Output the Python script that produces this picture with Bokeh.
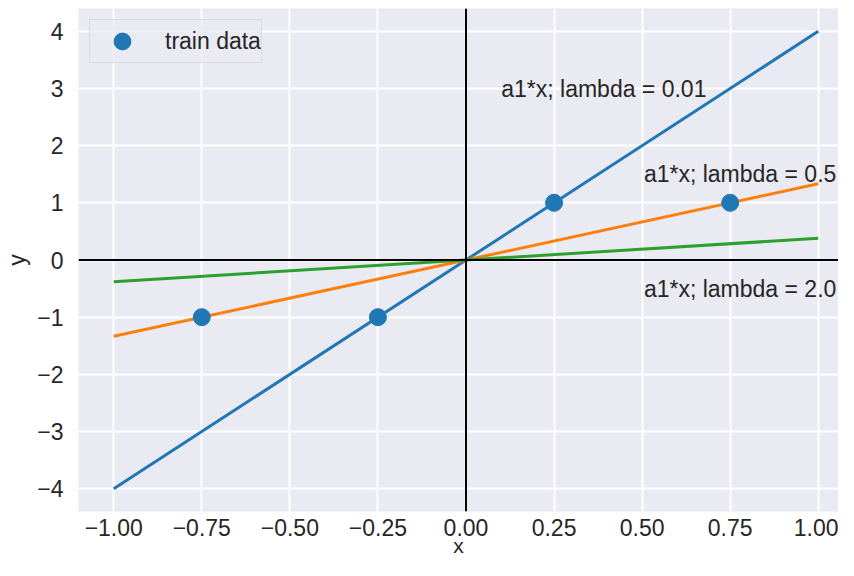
from bokeh.plotting import figure
from bokeh.models import Span, Legend, LegendItem, Range1d, FixedTicker
from bokeh.core.properties import value
from bokeh.embed import file_html
from bokeh.resources import INLINE

# ---- data ----
train_x = [-0.75, -0.25, 0.25, 0.75]
train_y = [-1.0, -1.0, 1.0, 1.0]

line_x = [-1.0, 1.0]
fit_y_lambda_001 = [-4.0, 4.0]
fit_y_lambda_05 = [-1.333, 1.333]
fit_y_lambda_20 = [-0.38, 0.38]

label_texts = ["a1*x; lambda = 0.01", "a1*x; lambda = 0.5", "a1*x; lambda = 2.0"]
label_x = [0.1, 0.505, 0.505]
label_y = [3.0, 1.5, -0.5]

x_ticks = [-1.0, -0.75, -0.5, -0.25, 0.0, 0.25, 0.5, 0.75, 1.0]
x_tick_labels = ["\u22121.00", "\u22120.75", "\u22120.50", "\u22120.25", "0.00",
                 "0.25", "0.50", "0.75", "1.00"]
y_ticks = [-4, -3, -2, -1, 0, 1, 2, 3, 4]
y_tick_labels = ["\u22124", "\u22123", "\u22122", "\u22121", "0", "1", "2", "3", "4"]
x_axis_title = "x"
y_axis_title = "y"

FONT = "Liberation Sans"
TXT = "#262626"
BG = "#EAEAF2"

p = figure(width=838, height=560, output_backend="svg", toolbar_location=None,
           x_range=Range1d(-1.1, 1.0575), y_range=Range1d(-4.4, 4.4),
           min_border_left=78, min_border_right=0, min_border_top=8,
           min_border_bottom=49, background_fill_color=BG,
           border_fill_color="white", outline_line_color=None)

for ax in (p.xaxis[0], p.yaxis[0]):
    ax.axis_line_color = None
    ax.major_tick_line_color = None
    ax.minor_tick_line_color = None
    ax.major_tick_out = 0
    ax.major_tick_in = 0
    ax.major_label_text_font = FONT
    ax.major_label_text_font_size = "23px"
    ax.major_label_text_color = TXT
    ax.axis_label_text_font = FONT
    ax.axis_label_text_font_style = "normal"
    ax.axis_label_text_color = TXT

p.xaxis.axis_label = x_axis_title
p.yaxis.axis_label = y_axis_title
p.xaxis.axis_label_text_font_size = "21px"
p.yaxis.axis_label_text_font_size = "23px"
p.xaxis.major_label_standoff = 7
p.yaxis.major_label_standoff = 15
p.xaxis.axis_label_standoff = -5
p.yaxis.axis_label_standoff = 4
p.xaxis.ticker = FixedTicker(ticks=x_ticks)
p.xaxis.major_label_overrides = {t: l for t, l in zip(x_ticks, x_tick_labels)}
p.yaxis.ticker = FixedTicker(ticks=y_ticks)
p.yaxis.major_label_overrides = {t: l for t, l in zip(y_ticks, y_tick_labels)}

p.grid.grid_line_color = "white"
p.grid.grid_line_width = 2

p.add_layout(Span(location=0, dimension="width", line_color="black", line_width=2))
p.add_layout(Span(location=0, dimension="height", line_color="black", line_width=2))

p.line(line_x, fit_y_lambda_001, line_color="#1f77b4", line_width=3)
p.line(line_x, fit_y_lambda_05, line_color="#ff7f0e", line_width=3)
p.line(line_x, fit_y_lambda_20, line_color="#2ca02c", line_width=3)

pts = p.scatter(train_x, train_y, size=17, fill_color="#1f77b4", line_color="#1f77b4")

p.text(x=label_x, y=label_y, text=label_texts, text_font=value(FONT),
       text_font_size="23px", text_color=TXT, text_baseline="alphabetic",
       text_align="left")

legend = Legend(items=[LegendItem(label="train data", renderers=[pts])],
                location="top_left", margin=11, padding=0,
                glyph_width=64, glyph_height=42, label_standoff=11,
                label_height=42,
                label_text_font=FONT, label_text_font_size="23px",
                label_text_color=TXT, background_fill_color=BG,
                background_fill_alpha=0.8, border_line_color="#cccccc",
                border_line_width=1.5)
p.add_layout(legend)

open("out.html", "w").write(file_html(p, INLINE))
